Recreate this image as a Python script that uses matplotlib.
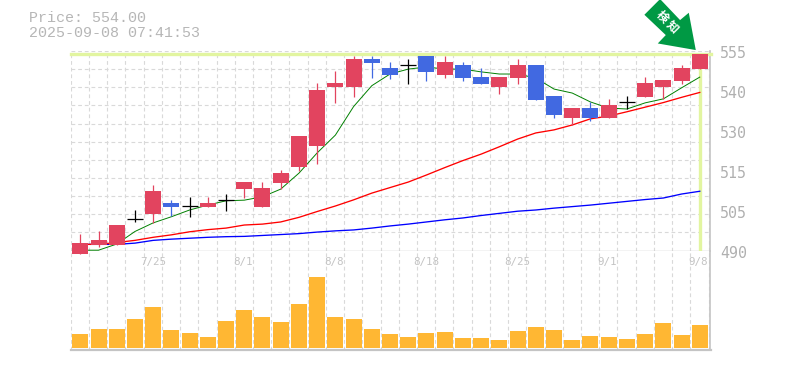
import matplotlib
matplotlib.use("Agg")
import matplotlib.pyplot as plt
import numpy as np
from matplotlib.patches import Polygon
from matplotlib.transforms import Affine2D

opens  = [488.9,491.8,491.8,500.2,501.9,505.5,504.4,504.2,506.4,510.0,504.2,512.0,517.2,524.0,543.3,543.3,552.4,549.5,550.3,553.4,547.2,550.4,546.5,543.3,546.2,550.4,540.3,533.2,536.4,533.2,538.3,540.0,543.3,545.2,549.0]
closes = [492.5,493.4,498.3,500.2,509.4,504.2,504.4,505.5,506.4,512.3,510.4,515.3,527.3,542.3,544.6,552.4,551.1,547.2,550.3,548.2,551.4,546.2,544.3,546.5,550.4,539.0,534.2,536.4,533.2,537.4,538.3,544.6,545.6,549.5,554.0]
highs  = [495.4,496.4,498.3,503.2,511.4,506.5,507.4,507.4,508.4,512.3,512.3,516.2,527.3,544.6,548.5,553.4,553.4,551.4,552.4,553.4,553.4,551.4,549.5,546.5,552.4,550.4,540.3,536.4,538.4,539.4,540.3,546.5,545.6,550.4,554.0]
lows   = [488.9,491.2,491.8,499.2,499.0,501.3,500.9,504.2,502.9,507.1,504.2,510.0,515.9,518.2,538.0,540.0,546.2,545.9,544.3,545.2,546.2,545.2,544.3,541.0,544.3,539.0,533.2,530.9,532.2,533.2,536.1,540.0,539.4,544.3,549.0]
ma_short = [490.1,490.1,492.1,496.2,499.0,501.0,503.2,504.8,506.2,506.4,507.5,510.0,515.2,521.8,527.6,536.9,543.7,547.5,549.1,549.8,549.1,549.1,548.2,547.5,547.5,546.2,542.6,541.3,538.4,536.4,536.1,538.1,539.4,543.0,546.5]
ma_mid   = [492.0,492.0,492.6,493.3,494.3,495.1,496.1,496.8,497.3,498.3,498.6,499.3,500.8,502.7,504.5,506.5,508.7,510.5,512.3,514.6,517.0,519.3,521.4,523.8,526.3,528.3,529.3,530.9,532.9,533.8,535.2,536.7,538.2,539.9,541.5]
ma_long  = [492.0,492.0,492.0,492.4,493.3,493.7,494.0,494.3,494.5,494.6,494.9,495.2,495.5,496.0,496.4,496.7,497.3,498.0,498.6,499.3,500.0,500.6,501.4,502.1,502.8,503.2,503.8,504.3,504.8,505.4,506.0,506.6,507.1,508.4,509.3]
volumes  = [14,19,19,29,41,18,15,11,27,38,31,26,44,71,31,29,19,14,11,15,16,10,10,8,17,21,18,8,12,11,9,14,25,13,23]
date_idx = [4,9,14,19,24,29,34]
date_labels = ["7/25","8/1","8/8","8/18","8/25","9/1","9/8"]
price_ticks = [555,542,529,516,503,490]
price_labels = ["555","540","530","515","505","490"]
last_price = 554.0
title_lines = ["Price: 554.00","2025-09-08 07:41:53"]
badge = "検知"

W,H = 785,370
fig = plt.figure(figsize=(W/100,H/100),dpi=100,facecolor="white")
STEP=18.22
L,R=70.5,710.5
def axpos(top,bot):
    return [L/W,1-bot/H,(R-L)/W,(bot-top)/H]
ax = fig.add_axes(axpos(51,250.5)); vx = fig.add_axes(axpos(250.5,350))
ax.set_zorder(3); ax.patch.set_alpha(0); vx.set_zorder(1)
xlim=((L-80.3)/STEP,(R-80.3)/STEP)
n=len(closes); x=np.arange(n)
GRID="#d9d9d9"; AXC="#c4c4c4"; TXT="#b6b6b6"
gridx=np.arange(n+1)-0.52
for a in (ax,vx):
    a.set_xlim(*xlim); a.set_xticks([]); a.set_yticks([])
    for s in a.spines.values(): s.set_visible(False)
    a.vlines(gridx,0,1,transform=a.get_xaxis_transform(),color=GRID,lw=0.8,linestyles=(0,(3.4,2.6)),zorder=0)
ax.set_ylim(490,555)
vx.set_ylim(-2,97.5)
ax.hlines(np.linspace(490,555,12)[1:],0,1,transform=ax.get_yaxis_transform(),color=GRID,lw=0.8,linestyles=(0,(3.4,2.6)),zorder=0)
ax.axhline(490,color=AXC,lw=1.0,zorder=0.5)
vx.axhline(-2,color=AXC,lw=1.6,clip_on=False,zorder=5)
for a in (ax,vx):
    a.axvline(xlim[1],color=AXC,lw=1.2,clip_on=False,zorder=0.6)

# last price guides
YEL="#e2f5a0"
ax.axhline(last_price,color=YEL,lw=2.4,zorder=1,clip_on=False)
ax.vlines(n-1,490,last_price,color=YEL,lw=2.4,zorder=1)

# moving averages
ax.plot(x,ma_long,color="#0000ff",lw=0.95,zorder=2)
ax.plot(x,ma_mid,color="#ff0000",lw=0.95,zorder=2.1)
ax.plot(x,ma_short,color="#008000",lw=0.7,zorder=2.2)

# candles
RED="#e2445f"; BLUE="#4169e1"
BW=16/STEP
o=np.array(opens); c=np.array(closes)
cols=[RED if b>a else (BLUE if b<a else "black") for a,b in zip(opens,closes)]
ax.vlines(x,lows,highs,colors=cols,lw=0.9,zorder=3,clip_on=False)
body=o!=c
ax.bar(x[body],np.abs(c-o)[body],bottom=np.minimum(o,c)[body],width=BW,
       color=[k for k,b in zip(cols,body) if b],zorder=4,clip_on=False,linewidth=0)
ax.hlines(c[~body],x[~body]-BW/2,x[~body]+BW/2,colors="black",lw=0.9,zorder=4)

# volume
vx.bar(x,volumes,width=BW,color="#ffb733",linewidth=0,zorder=2)

# date labels
for i,lab in zip(date_idx,date_labels):
    dx=0 if len(lab)==4 else -1.5
    vx.annotate(lab,(i,1),xycoords=vx.get_xaxis_transform(),xytext=(dx,-11.5),textcoords="offset pixels",
                ha="center",va="center",family="DejaVu Sans Mono",fontsize=7.8,color="#c4c4c4",zorder=6)
# price labels
for p,lab in zip(price_ticks,price_labels):
    ax.annotate(lab,(1,p),xycoords=ax.get_yaxis_transform(),xytext=(9.5,-2.5),textcoords="offset pixels",
                ha="left",va="center",family="DejaVu Sans Mono",fontsize=10.8,color="#b0b0b0",annotation_clip=False)
# header
for t,yy in zip(title_lines,(18,33)):
    fig.text(29/W,1-yy/H,t,family="Liberation Mono",fontsize=10.8,color=TXT,ha="left",va="center")

# badge arrow, anchored on the last candle
fig.canvas.draw()
tip=ax.transData.transform((n-1,last_price))+np.array([-4,4])
shape=np.array([(-51.4,35.3),(-35.7,51),(-15.7,30),(-7,37.3),(0,0),(-38,6.6),(-30,15)])
fig.add_artist(Polygon(shape,closed=True,facecolor="#009944",edgecolor="none",
                       transform=Affine2D().translate(*tip),zorder=10))
for ch,(dx,dy) in zip(badge,((-33.8,33.3),(-23.5,23))):
    fig.text((tip[0]+dx)/W,(tip[1]+dy)/H,ch,family="Noto Sans CJK JP",fontweight="bold",fontsize=8.5,
             color="white",rotation=-45,rotation_mode="anchor",ha="center",va="center",zorder=11)
fig.savefig("out.png",dpi=100)
